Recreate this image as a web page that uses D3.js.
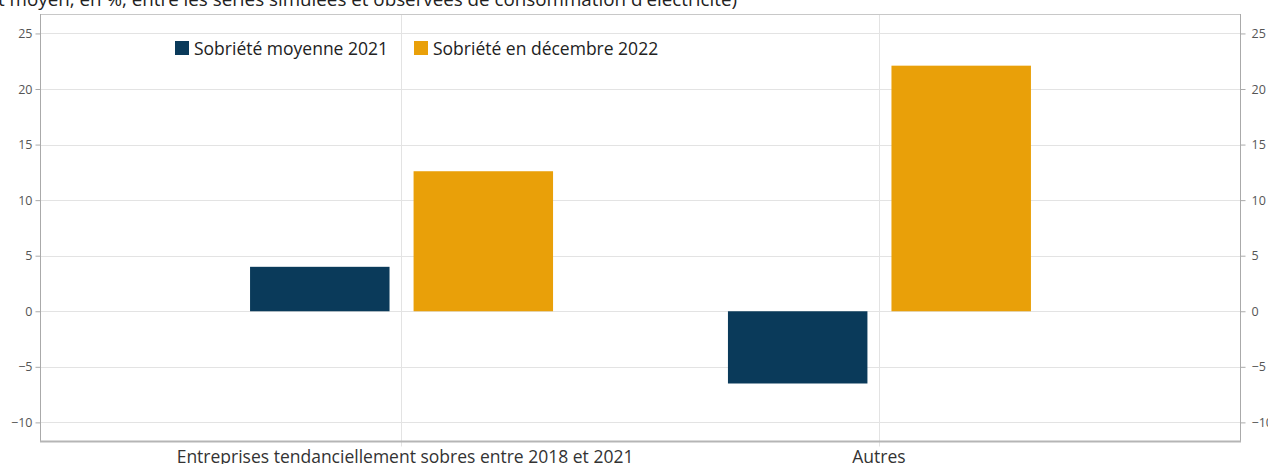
<!DOCTYPE html>
<html>
<head>
<meta charset="utf-8">
<script src="https://cdn.jsdelivr.net/npm/d3@7"></script>
<style>
  html, body { margin: 0; padding: 0; background: #fff; }
  svg { display: block; font-family: "Open Sans", "Noto Sans", sans-serif; }
</style>
</head>
<body>
<svg id="chart" width="1268" height="464"></svg>
<script>
const categories = ["Entreprises tendanciellement sobres entre 2018 et 2021", "Autres"];
const seriesNames = ["Sobriété moyenne 2021", "Sobriété en décembre 2022"];
const seriesColors = ["#0a3a5a", "#e9a009"];
const moyenne2021 = [4.0, -6.5];
const decembre2022 = [12.6, 22.1];
const yTicks = [-10, -5, 0, 5, 10, 15, 20, 25];
const titleText = "(écart moyen, en %, entre les séries simulées et observées de consommation d'électricité)";

const seriesValues = [moyenne2021, decembre2022];
const data = categories.map((c, i) => ({cat: c, values: seriesNames.map((s, j) => ({series: s, idx: j, value: seriesValues[j][i]}))}));

const svg = d3.select("#chart");
const pL = 40, pR = 1240, pT = 14, pB = 441.5;

const y = d3.scaleLinear().domain([-11.72, 26.75]).range([pB, pT]);
const x = d3.scalePoint().domain(categories).range([pL, pR]).padding(0.7555);
const xs = d3.scaleBand().domain(seriesNames).range([-151, 152]).paddingInner(0.147);

const fmt = d => d < 0 ? "\u2212" + Math.abs(d) : String(d);

// title (cropped at left edge)
svg.append("text").attr("x", 737).attr("y", 6).attr("text-anchor", "end")
  .attr("font-size", 18.8).attr("fill", "#222").text(titleText);

// horizontal grid
svg.append("g").selectAll("line").data(yTicks).join("line")
  .attr("x1", pL).attr("x2", pR)
  .attr("y1", d => Math.round(y(d)) + 0.5).attr("y2", d => Math.round(y(d)) + 0.5)
  .attr("stroke", "#e3e3e3").attr("stroke-width", 1);

// vertical grid at categories
svg.append("g").selectAll("line").data(categories).join("line")
  .attr("x1", d => Math.round(x(d)) + 0.5).attr("x2", d => Math.round(x(d)) + 0.5)
  .attr("y1", pT).attr("y2", pB + 5)
  .attr("stroke", "#e3e3e3").attr("stroke-width", 1);

// top border
svg.append("line").attr("x1", pL).attr("x2", pR).attr("y1", pT + 0.5).attr("y2", pT + 0.5)
  .attr("stroke", "#c8c8c8");

// bars
const g = svg.append("g");
data.forEach(d => {
  g.selectAll(null).data(d.values).join("rect")
    .attr("x", v => x(d.cat) + xs(v.series))
    .attr("width", xs.bandwidth())
    .attr("y", v => y(Math.max(0, v.value)))
    .attr("height", v => Math.abs(y(v.value) - y(0)))
    .attr("fill", v => seriesColors[v.idx]);
});

// left axis
const la = svg.append("g").attr("transform", `translate(${pL + 0.5},0)`)
  .call(d3.axisLeft(y).tickValues(yTicks).tickFormat(fmt).tickSize(5).tickPadding(3));
la.select(".domain").attr("stroke", "#aaa").attr("d", `M0,${pT}V${pB}`);
la.selectAll(".tick line").attr("stroke", "#aaa");
la.selectAll(".tick text").attr("font-size", 12.5).attr("fill", "#555").attr("font-family", "Open Sans");

// right axis
const ra = svg.append("g").attr("transform", `translate(${pR + 0.5},0)`)
  .call(d3.axisRight(y).tickValues(yTicks).tickFormat(fmt).tickSize(5).tickPadding(6));
ra.select(".domain").attr("stroke", "#aaa").attr("d", `M0,${pT}V${pB}`);
ra.selectAll(".tick line").attr("stroke", "#aaa");
ra.selectAll(".tick text").attr("font-size", 12.5).attr("fill", "#555").attr("font-family", "Open Sans");

// bottom axis
svg.append("line").attr("x1", pL).attr("x2", pR + 1).attr("y1", pB).attr("y2", pB)
  .attr("stroke", "#b5b5b5").attr("stroke-width", 2);
svg.append("g").selectAll("text").data(categories).join("text")
  .attr("x", (d, i) => x(d) + (i === 0 ? 4 : 0)).attr("y", 463).attr("text-anchor", "middle")
  .attr("font-size", 17.5).attr("fill", "#333").text(d => d);

// legend
const legX = [175, 414];
const leg = svg.append("g");
seriesNames.forEach((s, i) => {
  leg.append("rect").attr("x", legX[i]).attr("y", 41).attr("width", 14).attr("height", 14).attr("fill", seriesColors[i]);
  leg.append("text").attr("x", legX[i] + 19).attr("y", 55).attr("font-size", 17.5).attr("fill", "#222").text(s);
});
</script>
</body>
</html>
